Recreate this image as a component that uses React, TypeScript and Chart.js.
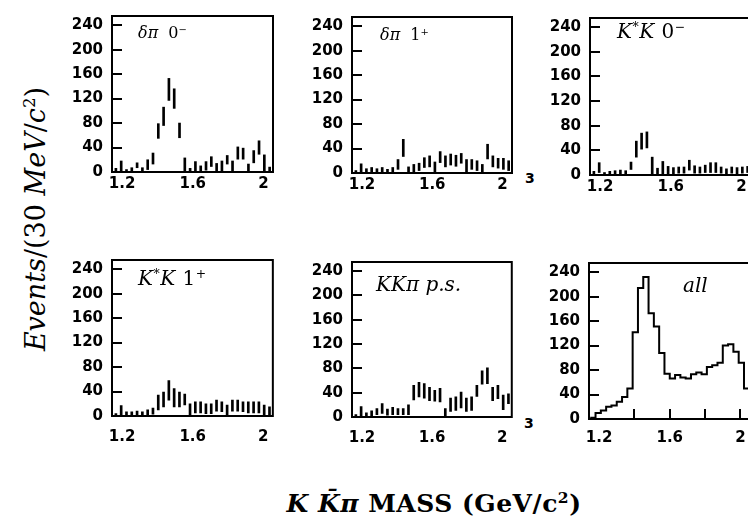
import React, { useEffect, useRef } from "react";
import { Chart, registerables } from "chart.js";

Chart.register(...registerables);

// ---------- data ----------
const massBins = [
  1.165, 1.195, 1.225, 1.255, 1.285, 1.315, 1.345, 1.375, 1.405, 1.435, 1.465,
  1.495, 1.525, 1.555, 1.585, 1.615, 1.645, 1.675, 1.705, 1.735, 1.765, 1.795,
  1.825, 1.855, 1.885, 1.915, 1.945, 1.975, 2.005, 2.035, 2.065,
];
const binEdges = [
  1.15, 1.18, 1.21, 1.24, 1.27, 1.3, 1.33, 1.36, 1.39, 1.42, 1.45, 1.48, 1.51,
  1.54, 1.57, 1.6, 1.63, 1.66, 1.69, 1.72, 1.75, 1.78, 1.81, 1.84, 1.87, 1.9,
  1.93, 1.96, 1.99, 2.02, 2.05, 2.08,
];
const yTicks = [0, 40, 80, 120, 160, 200, 240];
const xTicks = [1.2, 1.6, 2.0];
const xTickLabels = ["1.2", "1.6", "2"];
const histTicks = [1.4, 1.6, 1.8, 2.0];

const deltaPi0Values = [3, 9, 2, 4, 11, 4, 12, 22, 67, 91, 135, 120, 68, 12, 3, 9, 5, 10, 17, 8, 10, 20, 9, 31, 30, 7, 25, 40, 15, 4, 2];
const deltaPi0Errors = [3, 9, 2, 3, 4, 3, 8, 9, 12, 15, 18, 16, 12, 11, 3, 8, 5, 7, 8, 6, 8, 7, 9, 10, 9, 6, 10, 11, 13, 4, 2];

const deltaPi1Values = [2, 8, 4, 5, 4, 5, 3, 5, 14, 41, 5, 8, 10, 17, 19, 10, 26, 19, 22, 20, 24, 12, 14, 12, 8, 35, 19, 16, 15, 12, 10];
const deltaPi1Errors = [2, 7, 3, 4, 3, 4, 3, 4, 8, 14, 5, 6, 6, 8, 9, 8, 9, 9, 9, 9, 8, 10, 8, 8, 6, 12, 9, 8, 9, 8, 8];

const kstarK0Values = [3, 12, 2, 3, 4, 5, 4, 15, 42, 55, 57, 15, 6, 12, 8, 7, 8, 8, 16, 9, 8, 10, 12, 12, 8, 6, 8, 7, 8, 9, 10];
const kstarK0Errors = [3, 8, 2, 3, 3, 3, 3, 6, 13, 13, 13, 14, 5, 10, 6, 5, 5, 5, 8, 6, 5, 6, 8, 8, 5, 4, 5, 5, 5, 5, 6];

const kstarK1Values = [2, 9, 4, 4, 5, 4, 6, 8, 22, 27, 42, 30, 27, 27, 11, 14, 14, 12, 12, 17, 15, 10, 17, 17, 15, 14, 14, 14, 10, 8, 3];
const kstarK1Errors = [2, 8, 3, 3, 3, 3, 4, 5, 12, 12, 16, 15, 12, 9, 9, 9, 9, 8, 8, 9, 8, 8, 9, 9, 8, 9, 9, 9, 8, 7, 3];

const phaseSpaceValues = [2, 9, 4, 6, 9, 14, 8, 10, 9, 9, 12, 40, 45, 43, 38, 35, 36, 7, 20, 22, 28, 20, 22, 43, 65, 68, 38, 41, 24, 30, 10];
const phaseSpaceErrors = [2, 8, 3, 4, 5, 8, 5, 6, 5, 5, 8, 12, 12, 12, 11, 9, 11, 7, 11, 11, 13, 11, 11, 9, 11, 13, 11, 11, 12, 8, 5];

const allValues = [2, 10, 14, 20, 22, 28, 36, 50, 142, 214, 232, 173, 151, 108, 74, 66, 72, 68, 66, 73, 76, 73, 85, 88, 92, 120, 122, 110, 92, 50, 84];

// ---------- layout constants ----------
const X_MIN = 1.143;
const X_MAX = 2.054;
const Y_MAX = 255;
const PAD_T = 12;
const PAD_R = 8;
const Y_W = 52;
const X_H = 36;
const TICK_FONT = { family: "'DejaVu Sans', sans-serif", size: 15, weight: "bold" as const };

const framePlugin = {
  id: "frame",
  afterDraw(chart: any, _args: any, opts: any) {
    const { ctx, chartArea: a, scales } = chart;
    ctx.save();
    ctx.strokeStyle = "#000";
    ctx.lineWidth = 2;
    ctx.strokeRect(a.left, a.top, a.right - a.left, a.bottom - a.top);
    ctx.beginPath();
    for (const v of yTicks) {
      if (v === 0) continue;
      const y = Math.round(scales.y.getPixelForValue(v));
      ctx.moveTo(a.left, y);
      ctx.lineTo(a.left + 10, y);
    }
    if (opts && opts.inwardX) {
      for (const v of opts.inwardX) {
        const x = Math.round(scales.x.getPixelForValue(v));
        ctx.moveTo(x, a.bottom);
        ctx.lineTo(x, a.bottom - 10);
      }
    }
    ctx.stroke();
    ctx.restore();
  },
};

type PanelProps = {
  left: number;
  top: number;
  w: number;
  h: number;
  values: number[];
  errors?: number[];
  hist?: boolean;
  xPad?: number;
};

function Panel({ left, top, w, h, values, errors, hist, xPad = 3 }: PanelProps) {
  const ref = useRef<HTMLCanvasElement | null>(null);
  const cw = Y_W + w + PAD_R;
  const ch = PAD_T + h + X_H;

  useEffect(() => {
    if (!ref.current) return;
    const dataset: any = hist
      ? {
          type: "line",
          data: binEdges.map((x, i) => ({ x, y: values[Math.min(i, values.length - 1)] })),
          stepped: "before",
          borderColor: "#000",
          borderWidth: 2,
          pointRadius: 0,
          fill: false,
        }
      : {
          type: "bar",
          data: massBins.map((x, i) => ({
            x,
            y: [Math.max(0, values[i] - (errors ? errors[i] : 0)), values[i] + (errors ? errors[i] : 0)],
          })),
          backgroundColor: "#000",
          borderWidth: 0,
          barThickness: 2,
        };
    const chart = new Chart(ref.current, {
      type: hist ? "line" : "bar",
      data: { datasets: [dataset] },
      plugins: [framePlugin],
      options: {
        responsive: false,
        maintainAspectRatio: false,
        animation: false,
        layout: { padding: { top: PAD_T, right: PAD_R, left: 0, bottom: 0 } },
        plugins: {
          legend: { display: false },
          tooltip: { enabled: false },
          frame: { inwardX: hist ? histTicks : null },
        } as any,
        scales: {
          x: {
            type: "linear",
            min: X_MIN,
            max: X_MAX,
            offset: false,
            grid: { display: false, drawTicks: false },
            border: { display: false },
            afterBuildTicks: (s: any) => {
              s.ticks = xTicks.map((v) => ({ value: v }));
            },
            afterFit: (s: any) => {
              s.height = X_H;
            },
            ticks: {
              autoSkip: false,
              maxRotation: 0,
              color: "#000",
              font: TICK_FONT,
              padding: xPad,
              callback: (_v: any, i: number) => xTickLabels[i],
            },
          },
          y: {
            type: "linear",
            min: 0,
            max: Y_MAX,
            grid: { display: false, drawTicks: false },
            border: { display: false },
            afterBuildTicks: (s: any) => {
              s.ticks = yTicks.map((v) => ({ value: v }));
            },
            afterFit: (s: any) => {
              s.width = Y_W;
            },
            ticks: { color: "#000", font: TICK_FONT, padding: 9 },
          },
        },
      } as any,
    });
    return () => chart.destroy();
  }, []);

  return (
    <canvas
      ref={ref}
      width={cw}
      height={ch}
      style={{ position: "absolute", left: left - Y_W, top: top - PAD_T, width: cw, height: ch }}
    />
  );
}

const serif = "'DejaVu Serif', 'Liberation Serif', serif";
const supStyle: React.CSSProperties = { fontSize: "0.62em", verticalAlign: "0.55em", lineHeight: 0 };

function Label({
  left,
  top,
  size,
  spacing = 0,
  children,
}: {
  left: number;
  top: number;
  size: number;
  spacing?: number;
  children: React.ReactNode;
}) {
  return (
    <div
      style={{
        position: "absolute",
        left,
        top,
        fontFamily: serif,
        fontStyle: "italic",
        fontSize: size,
        letterSpacing: spacing,
        lineHeight: 1,
        whiteSpace: "nowrap",
        color: "#000",
      }}
    >
      {children}
    </div>
  );
}

export default function App() {
  return (
    <div
      style={{
        position: "fixed",
        left: 0,
        top: 0,
        width: 748,
        height: 528,
        overflow: "hidden",
        background: "#fff",
      }}
    >
      <Panel left={112} top={10} w={161} h={162} values={deltaPi0Values} errors={deltaPi0Errors} />
      <Panel left={352} top={11} w={160} h={162} values={deltaPi1Values} errors={deltaPi1Errors} />
      <Panel left={590} top={12} w={161} h={163} values={kstarK0Values} errors={kstarK0Errors} />
      <Panel left={112} top={254} w={161} h={162} values={kstarK1Values} errors={kstarK1Errors} xPad={12} />
      <Panel left={352} top={256} w={160} h={161} values={phaseSpaceValues} errors={phaseSpaceErrors} xPad={12} />
      <Panel left={589} top={257} w={161} h={162} values={allValues} hist xPad={10} />

      <Label left={138} top={25} size={16}>
        δπ&nbsp;&nbsp;<span style={{ fontStyle: "normal" }}>0</span>
        <span style={supStyle}>−</span>
      </Label>
      <Label left={380} top={27} size={16}>
        δπ&nbsp;&nbsp;<span style={{ fontStyle: "normal" }}>1</span>
        <span style={supStyle}>+</span>
      </Label>
      <Label left={617} top={21} size={20} spacing={0.5}>
        K<span style={supStyle}>*</span>K <span style={{ fontStyle: "normal" }}>0</span>
        <span style={supStyle}>−</span>
      </Label>
      <Label left={138} top={268} size={20} spacing={0.5}>
        K<span style={supStyle}>*</span>K <span style={{ fontStyle: "normal" }}>1</span>
        <span style={supStyle}>+</span>
      </Label>
      <Label left={376} top={274} size={20}>
        KKπ p.s.
      </Label>
      <Label left={683} top={275} size={20}>
        all
      </Label>

      <div style={{ position: "absolute", left: 525, top: 170, font: "bold 14px 'DejaVu Sans', sans-serif" }}>3</div>
      <div style={{ position: "absolute", left: 524, top: 415, font: "bold 14px 'DejaVu Sans', sans-serif" }}>3</div>

      <div
        style={{
          position: "absolute",
          left: 35,
          top: 219,
          transform: "translate(-50%, -50%) rotate(-90deg)",
          fontFamily: serif,
          fontSize: 27,
          whiteSpace: "nowrap",
          lineHeight: 1,
          color: "#000",
        }}
      >
        <i>Events</i>/(30 <i>MeV</i>/<i>c</i>
        <span style={supStyle}>2</span>)
      </div>

      <div
        style={{
          position: "absolute",
          left: 434,
          top: 503,
          transform: "translate(-50%, -50%)",
          fontFamily: serif,
          fontWeight: "bold",
          fontSize: 25,
          letterSpacing: 0.5,
          whiteSpace: "nowrap",
          lineHeight: 1,
          color: "#000",
        }}
      >
        <i>K</i> <i>K̄</i>
        <i>π</i> MASS (GeV/c<span style={supStyle}>2</span>)
      </div>
    </div>
  );
}
